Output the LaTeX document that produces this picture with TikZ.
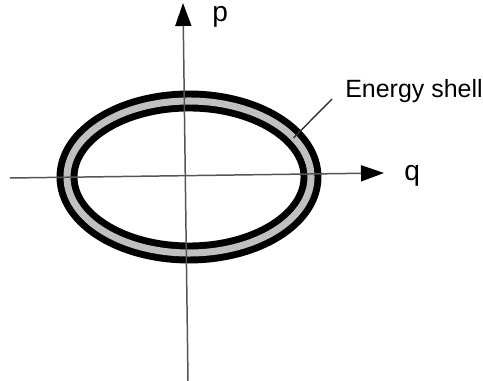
\documentclass[tikz,border=0pt]{standalone}
\usepackage{fontspec}
\setmainfont{Liberation Sans}
\usetikzlibrary{arrows.meta,calc}
\definecolor{ESAxis}{HTML}{555555}
\definecolor{ESBand}{HTML}{C0C0C0}
\definecolor{ESInk}{HTML}{000000}

\begin{document}
\begin{tikzpicture}[x=0.02cm,y=-0.02cm,
  axis/.style={ESAxis,line width=0.85pt,-{Triangle[length=0.46cm,width=0.32cm,fill=ESInk,color=ESInk]}},
  axislabel/.style={anchor=base west,inner sep=0pt,font=\fontsize{16}{18}\selectfont},
  shelllabel/.style={anchor=base west,inner sep=0pt,font=\fontsize{14.2}{16}\selectfont}]
\path[use as bounding box] (0,0) rectangle (483,381);
% energy shell ring
\draw[ESInk,line width=11.9pt] (189,177) ellipse (122 and 76);
\draw[ESBand,line width=4pt] (189,177) ellipse (122 and 76);
% axes, slightly tilted as in the sketch
\coordinate (qstart) at (10,178);
\coordinate (qend) at (384,173);
\coordinate (pstart) at (188,381);
\coordinate (pend) at (183,3);
\draw[axis] (qstart) -- (qend);
\draw[axis] (pstart) -- (pend);
\node[axislabel] (plabel) at (212,22) {p};
\node[axislabel] (qlabel) at (404,181) {q};
% leader to label
\coordinate (shellpt) at ($(189,177)+(31:122 and -76)$);
\node[shelllabel] (shell) at (345,98) {Energy shell};
\coordinate (leadend) at (332,99);
\draw[ESInk!80,line width=0.8pt] (shellpt) -- (leadend);
\end{tikzpicture}
\end{document}
